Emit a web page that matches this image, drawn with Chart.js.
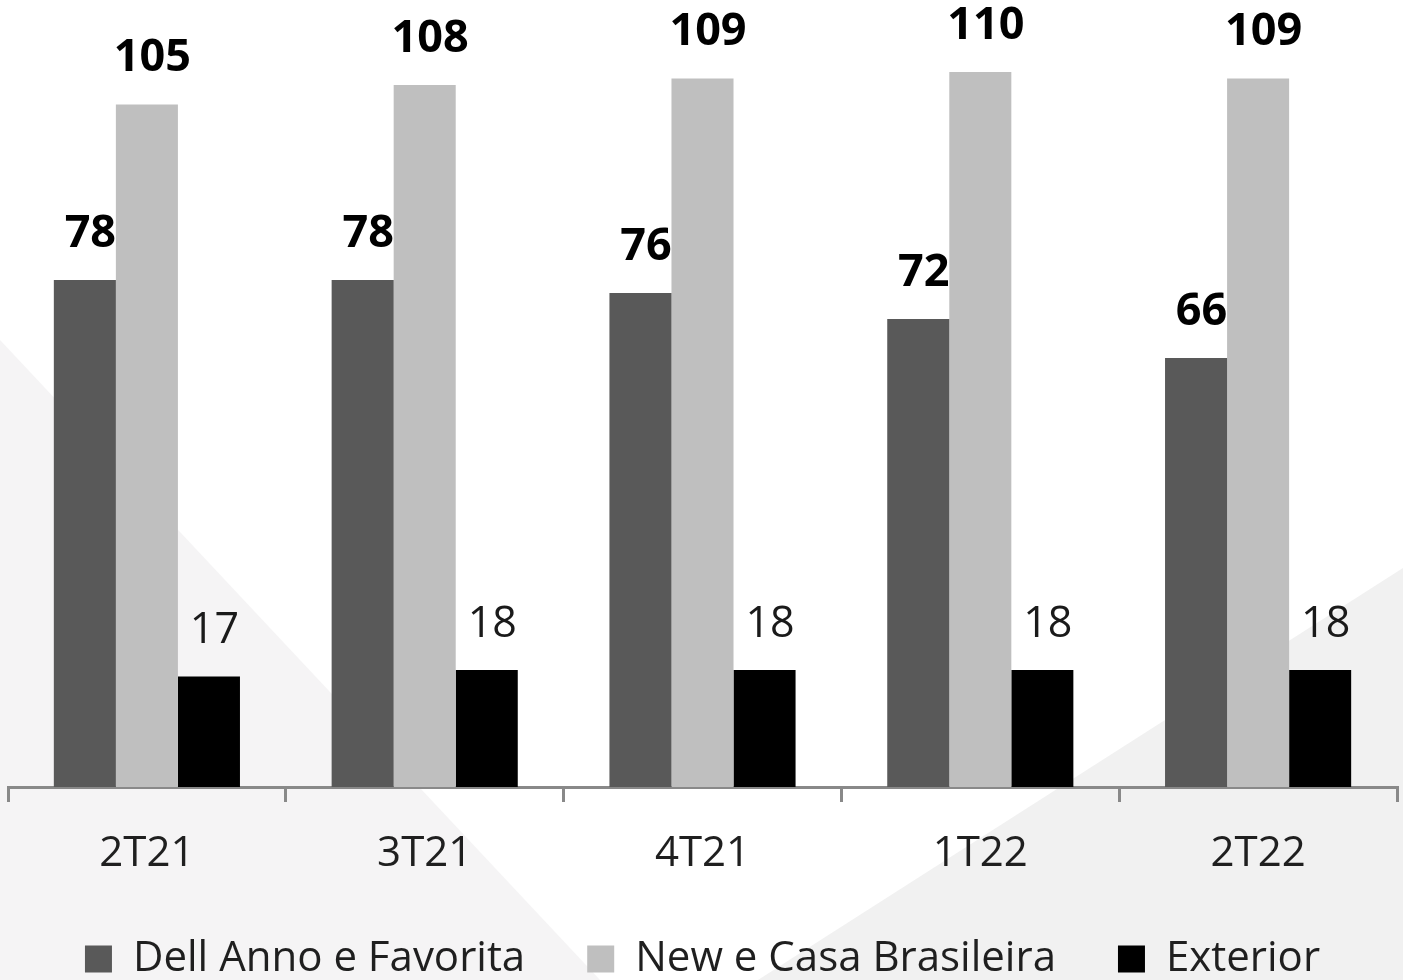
<!DOCTYPE html>
<html>
<head>
<meta charset="utf-8">
<script src="https://cdn.jsdelivr.net/npm/chart.js@4.4.1/dist/chart.umd.min.js"></script>
<style>
  html, body { margin: 0; padding: 0; background: #fff; overflow: hidden; }
  #wrap { width: 1403px; height: 990px; position: relative; }
</style>
</head>
<body>
<div id="wrap"><canvas id="volumeChart"></canvas></div>
<script>
const quarters = ["2T21", "3T21", "4T21", "1T22", "2T22"];
const dellAnno = [78, 78, 76, 72, 66];
const newCasa = [105, 108, 109, 110, 109];
const exterior = [17, 18, 18, 18, 18];

const FONT = "'Open Sans', 'Noto Sans', sans-serif";

// faint slide watermark behind the chart
const backdrop = {
  id: "backdrop",
  beforeDraw(chart) {
    const { ctx, width } = chart;
    const h = 980;
    ctx.save();
    ctx.fillStyle = "#ffffff";
    ctx.fillRect(0, 0, width, chart.height);
    ctx.fillStyle = "#f5f4f5";
    ctx.beginPath();
    ctx.moveTo(0, 340);
    ctx.lineTo(600, h);
    ctx.lineTo(0, h);
    ctx.closePath();
    ctx.fill();
    ctx.fillStyle = "#f1f1f1";
    ctx.beginPath();
    ctx.moveTo(758, h);
    ctx.lineTo(width, 568);
    ctx.lineTo(width, h);
    ctx.closePath();
    ctx.fill();
    ctx.restore();
  },
};

// value labels above each bar
const barLabels = {
  id: "barLabels",
  afterDatasetsDraw(chart) {
    const { ctx } = chart;
    ctx.save();
    ctx.textAlign = "center";
    ctx.textBaseline = "alphabetic";
    chart.data.datasets.forEach((ds, i) => {
      const meta = chart.getDatasetMeta(i);
      ctx.font = i < 2 ? `bold 45px ${FONT}` : `43px ${FONT}`;
      ctx.fillStyle = i < 2 ? "#000000" : "#1a1a1a";
      meta.data.forEach((bar, j) => {
        ctx.fillText(String(ds.data[j]), bar.x + 5.5, bar.y - 33.5);
      });
    });
    ctx.restore();
  },
};

new Chart(document.getElementById("volumeChart"), {
  type: "bar",
  data: {
    labels: quarters,
    datasets: [
      { label: "Dell Anno e Favorita", data: dellAnno, backgroundColor: "#595959", borderWidth: 0 },
      { label: "New e Casa Brasileira", data: newCasa, backgroundColor: "#bfbfbf", borderWidth: 0 },
      { label: "Exterior", data: exterior, backgroundColor: "#000000", borderWidth: 0 },
    ],
  },
  options: {
    responsive: true,
    maintainAspectRatio: false,
    animation: false,
    devicePixelRatio: 1,
    categoryPercentage: 0.67,
    barPercentage: 1.0,
    layout: { padding: { top: 7, left: 8, right: 6, bottom: 0 } },
    plugins: {
      tooltip: { enabled: false },
      legend: {
        position: "bottom",
        labels: {
          boxWidth: 27,
          boxHeight: 27,
          padding: 62,
          color: "#1f1f1f",
          font: { family: FONT, size: 42 },
        },
      },
    },
    scales: {
      x: {
        afterFit: (scale) => { scale.height = 89; },
        grid: {
          display: true,
          drawOnChartArea: false,
          drawTicks: true,
          tickLength: 15,
          color: "#898989",
          lineWidth: 3,
          offset: true,
        },
        border: { display: true, color: "#898989", width: 3 },
        ticks: {
          color: "#1f1f1f",
          padding: 27,
          font: { family: FONT, size: 42 },
        },
      },
      y: {
        display: false,
        min: 0,
        max: 120,
      },
    },
  },
  plugins: [backdrop, barLabels],
});
</script>
</body>
</html>
